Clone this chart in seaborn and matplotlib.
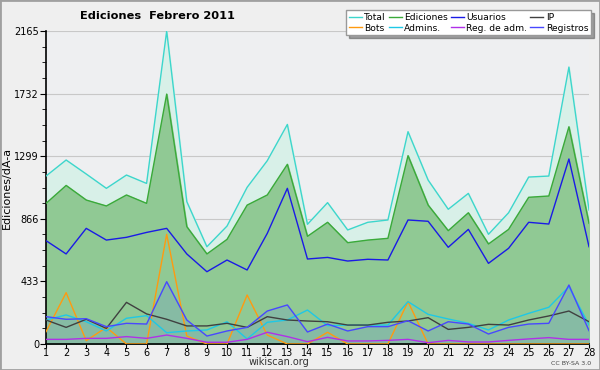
import numpy as np
import pandas as pd
import matplotlib
matplotlib.use("Agg")
import matplotlib.pyplot as plt
import seaborn as sns

# daily values, Feb 2011
days = list(range(1, 29))
total = [1162, 1273, 1176, 1077, 1169, 1111, 2165, 985, 673, 816, 1084, 1268, 1519, 828,
         978, 789, 842, 858, 1469, 1134, 932, 1042, 759, 908, 1155, 1162, 1916, 927]
ediciones = [973, 1097, 996, 955, 1031, 973, 1729, 812, 623, 724, 961, 1031, 1243, 745,
             842, 701, 719, 731, 1303, 961, 784, 908, 692, 793, 1015, 1024, 1503, 835]
usuarios = [715, 623, 800, 719, 738, 772, 800, 623, 500, 581, 512, 765, 1077, 588,
            599, 574, 586, 581, 858, 849, 669, 793, 558, 662, 842, 830, 1280, 673]
ip = [166, 115, 171, 108, 288, 208, 171, 125, 125, 143, 115, 189, 166, 159,
      154, 131, 131, 150, 159, 182, 101, 115, 136, 131, 166, 194, 228, 154]
bots = [85, 355, 23, 115, 0, 0, 759, 55, 0, 0, 339, 62, 0, 0,
        81, 0, 0, 0, 293, 0, 0, 0, 0, 0, 0, 0, 0, 0]
admins = [166, 201, 154, 90, 178, 196, 78, 90, 97, 154, 35, 150, 166, 235,
          127, 131, 131, 131, 293, 205, 173, 143, 97, 166, 212, 254, 396, 131]
reg_adm = [32, 32, 39, 39, 51, 39, 62, 39, 12, 12, 32, 81, 51, 16,
           46, 21, 21, 25, 32, 9, 25, 14, 14, 25, 35, 44, 32, 32]
registros = [189, 171, 175, 120, 143, 138, 431, 166, 55, 90, 115, 228, 270, 83,
             138, 90, 120, 120, 161, 90, 154, 138, 69, 115, 138, 143, 408, 92]

yticks = [0, 433, 866, 1299, 1732, 2165]

df = pd.DataFrame({"dia": days, "Total": total, "Ediciones": ediciones, "Usuarios": usuarios,
                   "IP": ip, "Bots": bots, "Admins.": admins, "Reg. de adm.": reg_adm,
                   "Registros": registros})

colores = {"Total": "#3dd6cc", "Bots": "#ff9a10", "Ediciones": "#3aaa3a", "Admins.": "#1ec8e6",
           "Usuarios": "#1a1ae6", "Reg. de adm.": "#b030e8", "IP": "#404040",
           "Registros": "#4848ff"}

fig = plt.figure(figsize=(6, 3.7), dpi=100, facecolor="#efefef")
ax = fig.add_axes([0.0767, 0.0703, 0.905, 0.8457])
ax.set_facecolor("#eeeff1")

# filled areas
ax.fill_between(df["dia"], df["Ediciones"], df["Total"], color="#d8f0e8", zorder=1)
ax.fill_between(df["dia"], 0, df["Ediciones"], color="#90c994", zorder=1)
ax.fill_between(df["dia"], 0, df["Registros"], color="#86bba4", zorder=1)

orden = ["Total", "Bots", "Ediciones", "Admins.", "Usuarios", "Reg. de adm.", "IP", "Registros"]
for s in orden:
    sns.lineplot(data=df, x="dia", y=s, color=colores[s], lw=1.0, label=s, ax=ax, zorder=3)

ax.set_xlim(1, 28)
ax.set_ylim(0, 2165)
ax.set_xticks(days)
ax.set_yticks(yticks)
ax.set_yticks(np.arange(0, 2166, 108.25), minor=True)
ax.grid(axis="y", which="major", color="#c8c8c8", lw=0.8, zorder=0)
ax.set_axisbelow(True)
ax.tick_params(axis="both", labelsize=7, length=4, direction="out", pad=1)
ax.tick_params(axis="x", length=3, pad=0)
ax.tick_params(axis="y", which="minor", length=3)
for sp in ["top", "right"]:
    ax.spines[sp].set_visible(False)
ax.spines["left"].set_linewidth(1.2)
ax.spines["bottom"].set_linewidth(1.2)

ax.set_xlabel("")
ax.set_ylabel("Ediciones/dÃ-a", fontsize=8, labelpad=2)
fig.text(0.465, 0.022, "wikiscan.org", fontsize=7, ha="center", va="center", color="#333333")
fig.text(0.262, 0.957, "Ediciones  Febrero 2011", fontsize=8.2, fontweight="bold",
         ha="center", va="center")
fig.text(0.985, 0.018, "CC BY-SA 3.0", fontsize=4.5, ha="right", va="center", color="#444444")

leg = ax.legend(ncol=4, loc="upper right", bbox_to_anchor=(1.012, 1.082), fontsize=6.6,
                frameon=True, fancybox=False, shadow=True, handlelength=1.4,
                columnspacing=0.3, handletextpad=0.3, borderpad=0.3, labelspacing=0.2)
leg.get_frame().set_edgecolor("#999999")
leg.get_frame().set_facecolor("white")

fig.patches.append(plt.Rectangle((0, 0), 1, 1, transform=fig.transFigure, fill=False,
                                 edgecolor="#a0a0a0", lw=2))

fig.savefig("out.png", dpi=100, facecolor=fig.get_facecolor())
